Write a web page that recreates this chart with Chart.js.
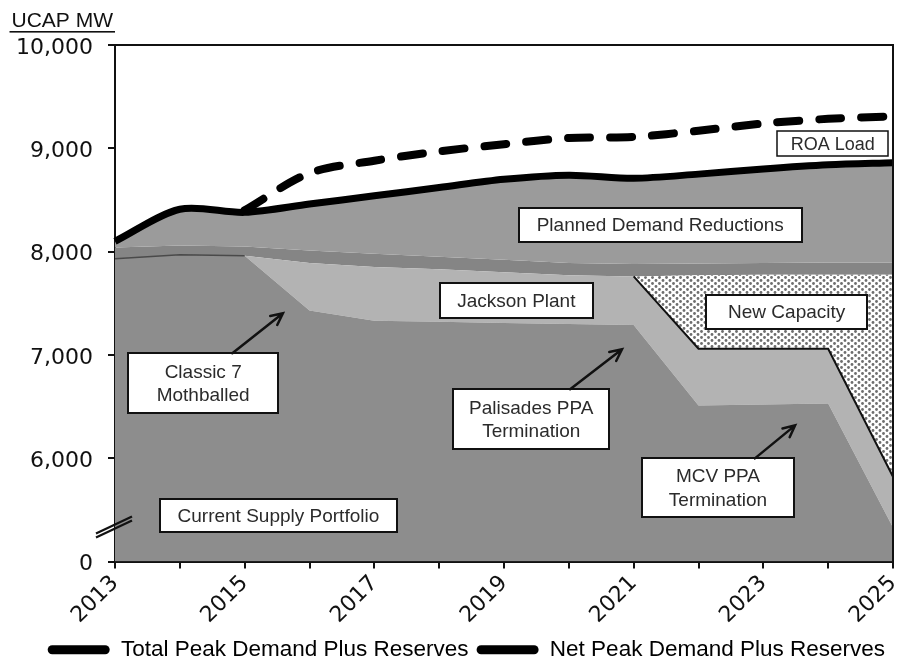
<!DOCTYPE html>
<html>
<head>
<meta charset="utf-8">
<script src="https://cdn.jsdelivr.net/npm/chart.js@4.4.1/dist/chart.umd.min.js"></script>
<style>
  html, body { margin: 0; padding: 0; background: #fff; }
  #wrap { width: 898px; height: 662px; }
</style>
</head>
<body>
<div id="wrap"><canvas id="chart" width="898" height="662"></canvas></div>
<script>
// years on the x axis
const years = ['2013', '2014', '2015', '2016', '2017', '2018', '2019', '2020', '2021', '2022', '2023', '2024', '2025'];

// top of each stacked band, UCAP MW
const currentSupply = [7930, 7970, 7960, 7430, 7330, 7320, 7310, 7300, 7290, 6510, 6520, 6530, 5330];
const jacksonTop    = [7930, 7970, 7960, 7890, 7850, 7830, 7800, 7770, 7760, 7060, 7060, 7060, 5820];
const newCapTop     = [7930, 7970, 7960, 7890, 7850, 7830, 7800, 7770, 7760, 7770, 7775, 7775, 7775];
const otherTop      = [8040, 8060, 8050, 8010, 7980, 7950, 7920, 7890, 7880, 7885, 7890, 7895, 7895];
const totalPeak     = [8100, 8410, 8380, 8460, 8540, 8620, 8700, 8740, 8710, 8750, 8800, 8840, 8860];
const netPeak       = [null, null, 8400, 8760, 8880, 8970, 9040, 9100, 9110, 9170, 9240, 9285, 9310];

const yTicks = [5000, 6000, 7000, 8000, 9000, 10000];

// text boxes, placed in data units (x = year index, y = MW)
const notes = [
  { lines: ['Planned Demand Reductions'], x: 8.41, y: 8256, w: 283, h: 34 },
  { lines: ['Jackson Plant'], x: 6.19, y: 7524, w: 153, h: 35 },
  { lines: ['New Capacity'], x: 10.36, y: 7413, w: 161, h: 34 },
  { lines: ['Classic 7', 'Mothballed'], x: 1.36, y: 6725, w: 150, h: 60 },
  { lines: ['Palisades PPA', 'Termination'], x: 6.42, y: 6376, w: 156, h: 60 },
  { lines: ['MCV PPA', 'Termination'], x: 9.30, y: 5712, w: 152, h: 59 },
  { lines: ['Current Supply Portfolio'], x: 2.52, y: 5441, w: 237, h: 33 }
];
const roaNote = { lines: ['ROA Load'], x: 11.07, y: 9046, w: 111, h: 25 };

const arrows = [
  { x0: 1.81, y0: 7016, x1: 2.59, y1: 7403 },
  { x0: 7.02, y0: 6667, x1: 7.82, y1: 7054 },
  { x0: 9.87, y0: 5998, x1: 10.49, y1: 6318 }
];

function dotPattern() {
    const c = document.createElement('canvas');
    c.width = 7; c.height = 6;
    const g = c.getContext('2d');
    g.fillStyle = '#fff';
    g.fillRect(0, 0, 7, 6);
    g.fillStyle = '#6e6e6e';
    [[1.5, 1.5], [5, 4.5]].forEach(p => {
        g.beginPath();
        g.arc(p[0], p[1], 1.4, 0, Math.PI * 2);
        g.fill();
    });
    return g.createPattern(c, 'repeat');
}

function drawBox(ctx, chart, n, size, lw) {
    const xs = chart.scales.x, ys = chart.scales.y;
    const cx = xs.getPixelForValue(n.x), cy = ys.getPixelForValue(n.y);
    const l = Math.round(cx - n.w / 2), t = Math.round(cy - n.h / 2);
    ctx.save();
    ctx.fillStyle = '#fff';
    ctx.fillRect(l, t, n.w, n.h);
    ctx.strokeStyle = '#111';
    ctx.lineWidth = lw;
    ctx.strokeRect(l, t, n.w, n.h);
    ctx.fillStyle = '#2b2b2b';
    ctx.font = size + 'px "Liberation Sans", Arial, sans-serif';
    ctx.textAlign = 'center';
    ctx.textBaseline = 'middle';
    const lh = size * 1.25;
    const y0 = cy - (n.lines.length - 1) * lh / 2;
    n.lines.forEach((s, i) => ctx.fillText(s, cx, y0 + i * lh + 1));
    ctx.restore();
}

const extras = {
    id: 'extras',
    beforeDatasetDraw(chart, args) {
        // ROA box sits under the dashed line
        if (args.index === 5) drawBox(chart.ctx, chart, roaNote, 18, 1.5);
    },
    afterDatasetsDraw(chart) {
        const ctx = chart.ctx;
        const xs = chart.scales.x, ys = chart.scales.y;
        const a = chart.chartArea;

        notes.forEach(n => drawBox(ctx, chart, n, 19, 2));

        // arrows
        ctx.save();
        ctx.strokeStyle = '#111';
        ctx.lineWidth = 2.5;
        ctx.lineCap = 'round';
        arrows.forEach(r => {
            const x0 = xs.getPixelForValue(r.x0), y0 = ys.getPixelForValue(r.y0);
            const x1 = xs.getPixelForValue(r.x1), y1 = ys.getPixelForValue(r.y1);
            const ang = Math.atan2(y1 - y0, x1 - x0);
            ctx.beginPath();
            ctx.moveTo(x0, y0);
            ctx.lineTo(x1, y1);
            ctx.moveTo(x1 - 13 * Math.cos(ang - 0.45), y1 - 13 * Math.sin(ang - 0.45));
            ctx.lineTo(x1, y1);
            ctx.lineTo(x1 - 13 * Math.cos(ang + 0.45), y1 - 13 * Math.sin(ang + 0.45));
            ctx.stroke();
        });
        ctx.restore();

        // frame on top and right
        ctx.save();
        ctx.strokeStyle = '#111';
        ctx.lineWidth = 2;
        ctx.beginPath();
        ctx.moveTo(a.left, a.top);
        ctx.lineTo(a.right, a.top);
        ctx.lineTo(a.right, a.bottom);
        ctx.stroke();
        ctx.restore();
    },
    afterDraw(chart) {
        const ctx = chart.ctx;
        const a = chart.chartArea;
        const ys = chart.scales.y;

        // axis break mark
        const by = ys.getPixelForValue(5330);
        ctx.save();
        ctx.strokeStyle = '#111';
        ctx.lineWidth = 2.2;
        [-2, 2].forEach(d => {
            ctx.beginPath();
            ctx.moveTo(a.left - 19, by + 8 + d);
            ctx.lineTo(a.left + 17, by - 9 + d);
            ctx.stroke();
        });
        ctx.restore();

        // axis unit, underlined
        ctx.save();
        ctx.fillStyle = '#111';
        ctx.font = '21px "Liberation Sans", Arial, sans-serif';
        ctx.textAlign = 'right';
        ctx.textBaseline = 'alphabetic';
        const tx = a.left - 2, ty = a.top - 18;
        ctx.fillText('UCAP MW', tx, ty);
        const w = ctx.measureText('UCAP MW').width;
        ctx.fillRect(tx - w - 2, ty + 4, w + 4, 1.6);
        ctx.restore();
    }
};

const clear = 'rgba(0,0,0,0)';

new Chart(document.getElementById('chart'), {
    type: 'line',
    data: {
        labels: years,
        datasets: [
            {
                label: 'Current Supply Portfolio',
                data: currentSupply,
                fill: 'start',
                backgroundColor: '#8d8d8d',
                borderWidth: 0,
                borderColor: clear,
                pointRadius: 0
            },
            {
                label: 'Jackson Plant',
                data: jacksonTop,
                fill: 0,
                backgroundColor: '#b3b3b3',
                borderWidth: 0,
                borderColor: clear,
                pointRadius: 0
            },
            {
                label: 'New Capacity',
                data: newCapTop,
                fill: 1,
                backgroundColor: dotPattern(),
                borderWidth: 0,
                borderColor: clear,
                pointRadius: 0
            },
            {
                label: 'Other',
                data: otherTop,
                fill: 2,
                backgroundColor: '#858585',
                borderWidth: 0,
                borderColor: clear,
                pointRadius: 0
            },
            {
                label: 'Total Peak Demand Plus Reserves',
                data: totalPeak,
                fill: 3,
                backgroundColor: '#9b9b9b',
                borderColor: '#000',
                borderWidth: 7,
                tension: 0.3,
                pointRadius: 0,
                order: -1
            },
            {
                label: 'Net Peak Demand Plus Reserves',
                data: netPeak,
                fill: false,
                borderColor: '#000',
                borderWidth: 8,
                borderDash: [22, 20],
                borderCapStyle: 'round',
                tension: 0.3,
                pointRadius: 0,
                order: -2
            },
            {
                // thin edge on top of the supply block before 2015
                label: 'edge-supply',
                data: currentSupply.map((v, i) => i <= 2 ? v : null),
                fill: false,
                borderColor: '#4a4a4a',
                borderWidth: 1.5,
                pointRadius: 0,
                order: -1
            },
            {
                // black outline under the new capacity block
                label: 'edge-newcap',
                data: jacksonTop.map((v, i) => i >= 8 ? v : null),
                fill: false,
                borderColor: '#111',
                borderWidth: 2,
                pointRadius: 0,
                order: -1
            }
        ]
    },
    options: {
        responsive: false,
        animation: false,
        events: [],
        layout: { padding: { top: 45, right: 5, left: 0, bottom: -9 } },
        plugins: {
            tooltip: { enabled: false },
            legend: {
                position: 'bottom',
                align: 'end',
                labels: {
                    boxWidth: 62,
                    boxHeight: 9,
                    useBorderRadius: true,
                    borderRadius: 4.5,
                    padding: 8,
                    color: '#111',
                    font: { family: 'Liberation Sans', size: 22.5 },
                    generateLabels: chart => [4, 5].map(i => ({
                        text: chart.data.datasets[i].label,
                        fillStyle: '#000',
                        strokeStyle: '#000',
                        lineWidth: 0,
                        borderRadius: 4.5,
                        datasetIndex: i,
                        hidden: false
                    }))
                }
            }
        },
        scales: {
            x: {
                ticks: {
                    autoSkip: false,
                    maxRotation: 45,
                    minRotation: 45,
                    padding: 2,
                    color: '#111',
                    font: { family: 'DejaVu Sans', size: 22 },
                    callback: (v, i) => i % 2 === 0 ? years[i] : ''
                },
                grid: { drawOnChartArea: false, tickLength: 7, color: '#111', lineWidth: 2 },
                border: { color: '#111', width: 2 },
                afterFit: s => { s.height = 69; s.paddingLeft = 0; s.paddingRight = 0; }
            },
            y: {
                min: 5000,
                max: 10000,
                afterBuildTicks: s => { s.ticks = yTicks.map(v => ({ value: v })); },
                ticks: {
                    padding: 15,
                    labelOffset: 3,
                    color: '#111',
                    font: { family: 'DejaVu Sans', size: 22 },
                    callback: v => v === 5000 ? '0' : v.toLocaleString('en-US')
                },
                grid: { drawOnChartArea: false, tickLength: 7, color: '#111', lineWidth: 2 },
                border: { color: '#111', width: 2 },
                afterFit: s => { s.width = 115; s.paddingTop = 0; s.paddingBottom = 0; }
            }
        }
    },
    plugins: [extras]
});
</script>
</body>
</html>
